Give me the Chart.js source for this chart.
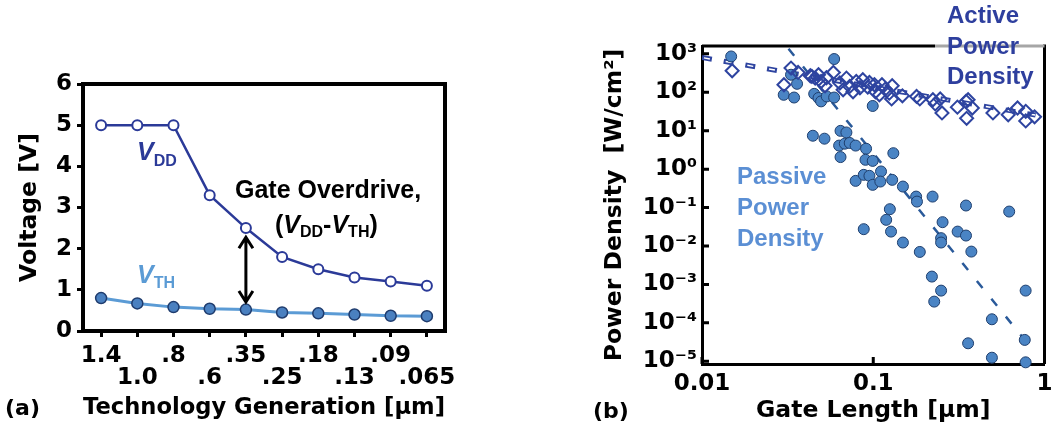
<!DOCTYPE html>
<html>
<head>
<meta charset="utf-8">
<script src="https://cdn.jsdelivr.net/npm/chart.js@4.4.1/dist/chart.umd.min.js"></script>
<style>
  body { margin: 0; background: #fff; }
  #wrap { position: relative; width: 1053px; height: 434px; overflow: hidden; }
  canvas { position: absolute; top: 0; }
  #voltChart { left: 0; }
  #powerChart { left: 530px; }
</style>
</head>
<body>
<div id="wrap">
  <canvas id="voltChart" width="470" height="434"></canvas>
  <canvas id="powerChart" width="523" height="434"></canvas>
</div>
<script>
/* ================= DATA (a) ================= */
const generations = ['1.4', '1.0', '.8', '.6', '.35', '.25', '.18', '.13', '.09', '.065'];
const vddValues = [5, 5, 5, 3.3, 2.5, 1.8, 1.5, 1.3, 1.2, 1.1];
const vthValues = [0.8, 0.67, 0.58, 0.54, 0.52, 0.45, 0.43, 0.4, 0.37, 0.36];

/* ================= DATA (b) ================= */
const passiveX = [0.0148, 0.0591, 0.0331, 0.0359, 0.030, 0.0345, 0.0452, 0.0479, 0.0496, 0.0535,
  0.0591, 0.0993, 0.0444, 0.0519, 0.0644, 0.0697, 0.0632, 0.0682, 0.0729, 0.0789,
  0.0644, 0.0908, 0.0901, 0.0993, 0.131, 0.111, 0.0789, 0.088, 0.095, 0.0993,
  0.110, 0.129, 0.149, 0.178, 0.180, 0.222, 0.348, 0.622, 0.125, 0.119,
  0.127, 0.088, 0.149, 0.187, 0.254, 0.249, 0.249, 0.311, 0.348, 0.374,
  0.220, 0.249, 0.227, 0.776, 0.493, 0.358, 0.767, 0.493, 0.776];
const passiveY = [855, 733, 286, 166, 86, 73, 91, 71, 58, 78,
  73, 44, 7.4, 6.2, 9.9, 9.0, 4.1, 4.6, 4.8, 4.1,
  2.06, 3.4, 1.75, 1.64, 2.6, 0.87, 0.495, 0.71, 0.67, 0.39,
  0.475, 0.526, 0.352, 0.193, 0.143, 0.193, 0.113, 0.0787, 0.0908, 0.0479,
  0.0237, 0.0274, 0.0123, 0.007, 0.0417, 0.016, 0.0123, 0.0237, 0.0187, 0.00715,
  0.0016, 0.00069, 0.000357, 0.00069, 0.000124, 2.94e-5, 3.6e-5, 1.24e-5, 9.4e-6];

const activeX = [0.0150, 0.0301, 0.0331, 0.0364, 0.0429, 0.0438, 0.0458, 0.0479, 0.0496, 0.0523,
  0.0533, 0.0585, 0.0638, 0.0667, 0.0697, 0.0729, 0.0762, 0.0796, 0.0836, 0.0869,
  0.0929, 0.0950, 0.1016, 0.103, 0.1086, 0.1124, 0.1176, 0.124, 0.128, 0.129,
  0.148, 0.179, 0.187, 0.223, 0.230, 0.246, 0.252, 0.310, 0.348, 0.358,
  0.351, 0.379, 0.500, 0.614, 0.696, 0.777, 0.777, 0.875];
const activeY = [363, 157, 427, 328, 269, 258, 234, 286, 191, 148,
  239, 328, 174, 116, 234, 142, 103, 191, 131, 212,
  136, 180, 157, 103, 86, 157, 121, 95, 67, 148,
  81, 78, 67, 64, 50, 67, 29, 41, 58, 64,
  21, 39, 29, 26, 39, 32, 18, 23];

const activeFitX = [0.01, 0.887];
const activeFitY = [802, 25.5];
const passiveFitX = [0.032, 0.865];
const passiveFitY = [1360, 1.85e-5];

const gateTicks = [0.01, 0.1, 1];
const gateTickLabels = ['0.01', '0.1', '1'];
const powerTicks = [1e-5, 1e-4, 1e-3, 1e-2, 1e-1, 1, 10, 100, 1000];
const powerTickLabels = ['10⁻⁵', '10⁻⁴', '10⁻³', '10⁻²', '10⁻¹', '10⁰', '10¹', '10²', '10³'];

/* ================= STYLE ================= */
const AXIS_FONT = '"DejaVu Sans", sans-serif';
const NOTE_FONT = '"Liberation Sans", Arial, sans-serif';
const DARK_BLUE = '#2b3a98';
const LIGHT_BLUE = '#5b9bd5';

const tickFont = { family: AXIS_FONT, weight: 'bold', size: 23 };
const titleFont = { family: AXIS_FONT, weight: 'bold', size: 23.5, lineHeight: 1.2 };

function drawRuns(ctx, x, y, runs, color) {
  ctx.save();
  ctx.fillStyle = color;
  ctx.textAlign = 'left';
  ctx.textBaseline = 'alphabetic';
  runs.forEach(r => {
    ctx.font = r.font;
    ctx.fillText(r.text, x, y + (r.dy || 0));
    x += ctx.measureText(r.text).width;
  });
  ctx.restore();
}

const big = 'bold 25px ' + NOTE_FONT;
const bigIt = 'italic bold 25px ' + NOTE_FONT;
const sub = 'bold 16px ' + NOTE_FONT;

/* ================= CHART (a) ================= */
const arrowAt = 4;
const arrowFrom = 2.3;
const arrowTo = 0.68;

const voltExtras = {
  id: 'voltExtras',
  beforeDatasetsDraw(chart) {
    const { ctx, chartArea: a } = chart;
    ctx.save();
    ctx.strokeStyle = '#000';
    ctx.lineWidth = 4;
    ctx.beginPath();
    ctx.moveTo(a.left - 2, a.top);
    ctx.lineTo(a.right, a.top);
    ctx.lineTo(a.right, a.bottom + 2);
    ctx.stroke();
    ctx.restore();
  },
  afterDatasetsDraw(chart) {
    const { ctx } = chart;
    const xs = chart.scales.x, ys = chart.scales.y;

    /* double arrow */
    const ax = xs.getPixelForValue(arrowAt);
    const y1 = ys.getPixelForValue(arrowFrom);
    const y2 = ys.getPixelForValue(arrowTo);
    ctx.save();
    ctx.strokeStyle = '#000';
    ctx.lineWidth = 3;
    ctx.beginPath();
    ctx.moveTo(ax, y1 + 2);
    ctx.lineTo(ax, y2 - 2);
    ctx.moveTo(ax - 7, y1 + 12);
    ctx.lineTo(ax, y1 + 1);
    ctx.lineTo(ax + 7, y1 + 12);
    ctx.moveTo(ax - 7, y2 - 12);
    ctx.lineTo(ax, y2 - 1);
    ctx.lineTo(ax + 7, y2 - 12);
    ctx.stroke();
    ctx.restore();

    /* labels */
    drawRuns(ctx, 137, 160, [{ text: 'V', font: bigIt }, { text: 'DD', font: sub, dy: 6 }], DARK_BLUE);
    drawRuns(ctx, 137, 283, [{ text: 'V', font: bigIt }, { text: 'TH', font: sub, dy: 5 }], LIGHT_BLUE);
    drawRuns(ctx, 235, 198, [{ text: 'Gate Overdrive,', font: big }], '#000');
    drawRuns(ctx, 275, 233, [
      { text: '(', font: big }, { text: 'V', font: bigIt }, { text: 'DD', font: sub, dy: 4 },
      { text: '-', font: big }, { text: 'V', font: bigIt }, { text: 'TH', font: sub, dy: 4 },
      { text: ')', font: big }
    ], '#000');
    drawRuns(ctx, 5, 415, [{ text: '(a)', font: 'bold 22px ' + AXIS_FONT }], '#000');
  }
};

new Chart(document.getElementById('voltChart'), {
  type: 'line',
  data: {
    labels: generations,
    datasets: [
      {
        label: 'VDD',
        data: vddValues,
        borderColor: DARK_BLUE,
        borderWidth: 2.5,
        pointRadius: 5,
        pointBorderWidth: 2,
        pointBackgroundColor: '#fff',
        pointBorderColor: DARK_BLUE,
        tension: 0,
        clip: false
      },
      {
        label: 'VTH',
        data: vthValues,
        borderColor: LIGHT_BLUE,
        borderWidth: 3,
        pointRadius: 5.5,
        pointBorderWidth: 1.5,
        pointBackgroundColor: '#4a80c0',
        pointBorderColor: '#1f3c6e',
        tension: 0,
        clip: false
      }
    ]
  },
  options: {
    responsive: false,
    animation: false,
    events: [],
    layout: { padding: { top: 84, right: 25, left: 0, bottom: 0 } },
    plugins: { legend: { display: false }, tooltip: { enabled: false } },
    scales: {
      x: {
        offset: true,
        grid: { display: true, drawOnChartArea: false, drawTicks: true, tickLength: 6, tickWidth: 3, tickColor: '#000', offset: false },
        border: { display: true, color: '#000', width: 4 },
        ticks: {
          autoSkip: false,
          maxRotation: 0,
          padding: 8,
          color: '#000',
          font: { ...tickFont, lineHeight: 0.96 },
          callback: (v, i) => (i % 2 ? ['', generations[i]] : [generations[i], ''])
        },
        title: { display: true, text: 'Technology Generation [µm]', color: '#000', font: titleFont, padding: { top: 12, bottom: 12 } },
        afterFit: s => { s.height = 103; s.paddingLeft = 0; s.paddingRight = 0; }
      },
      y: {
        min: 0,
        max: 6,
        grid: { display: true, drawOnChartArea: false, drawTicks: true, tickLength: 6, tickWidth: 3, tickColor: '#000' },
        border: { display: true, color: '#000', width: 4 },
        ticks: { stepSize: 1, padding: 5, color: '#000', font: tickFont },
        title: { display: true, text: 'Voltage [V]', color: '#000', font: titleFont, padding: { top: 16, bottom: 16 } },
        afterFit: s => { s.width = 83; s.paddingTop = 0; s.paddingBottom = 0; }
      }
    }
  },
  plugins: [voltExtras]
});

/* ================= CHART (b) ================= */
const powerExtras = {
  id: 'powerExtras',
  beforeDatasetsDraw(chart) {
    const { ctx, chartArea: a } = chart;
    const xs = chart.scales.x, ys = chart.scales.y;
    ctx.save();
    ctx.lineWidth = 3;
    ctx.strokeStyle = '#000';
    ctx.beginPath();
    ctx.moveTo(a.left, a.top);
    ctx.lineTo(405, a.top);
    ctx.moveTo(a.right, a.top - 1.5);
    ctx.lineTo(a.right, a.bottom);
    ctx.stroke();
    ctx.strokeStyle = '#a6a6a6';
    ctx.beginPath();
    ctx.moveTo(405, a.top);
    ctx.lineTo(a.right, a.top);
    ctx.stroke();

    /* inward tick marks */
    ctx.strokeStyle = '#000';
    ctx.beginPath();
    gateTicks.forEach(v => {
      const px = xs.getPixelForValue(v);
      ctx.moveTo(px, a.bottom);
      ctx.lineTo(px, a.bottom - 7);
    });
    powerTicks.forEach(v => {
      const py = ys.getPixelForValue(v);
      ctx.moveTo(a.left, py);
      ctx.lineTo(a.left + 7, py);
    });
    ctx.stroke();
    ctx.restore();
  },
  afterDatasetsDraw(chart) {
    const { ctx } = chart;
    const note = 'bold 24px ' + NOTE_FONT;
    ['Active', 'Power', 'Density'].forEach((t, i) =>
      drawRuns(ctx, 417, 23 + i * 30.5, [{ text: t, font: note }], '#2e3f9e'));
    ['Passive', 'Power', 'Density'].forEach((t, i) =>
      drawRuns(ctx, 207, 184 + i * 31, [{ text: t, font: note }], '#5b8fd4'));
    drawRuns(ctx, 63, 418, [{ text: '(b)', font: 'bold 22px ' + AXIS_FONT }], '#000');
  }
};

const activeFitPoints = activeFitX.map((x, i) => ({ x, y: activeFitY[i] }));

new Chart(document.getElementById('powerChart'), {
  type: 'scatter',
  data: {
    datasets: [
      {
        label: 'Active Power Density',
        data: activeX.map((x, i) => ({ x, y: activeY[i] })),
        pointStyle: 'rectRot',
        pointRadius: 6.5,
        pointBorderWidth: 2,
        borderColor: '#2e44a0',
        backgroundColor: 'rgba(255,255,255,0)',
        order: 1,
        clip: false
      },
      {
        label: 'Passive Power Density',
        data: passiveX.map((x, i) => ({ x, y: passiveY[i] })),
        pointRadius: 5.5,
        pointBorderWidth: 1,
        borderColor: '#1f3f6e',
        backgroundColor: '#4a84c4',
        order: 2,
        clip: false
      },
      {
        label: 'Active trend (inner)',
        data: activeFitPoints,
        showLine: true,
        pointRadius: 0,
        borderColor: '#fff',
        borderWidth: 1.5,
        borderDash: [6, 16],
        borderDashOffset: -2,
        order: 3
      },
      {
        label: 'Active trend',
        data: activeFitPoints,
        showLine: true,
        pointRadius: 0,
        borderColor: '#2e44a0',
        borderWidth: 5,
        borderDash: [10, 12],
        order: 4
      },
      {
        label: 'Passive trend',
        data: passiveFitX.map((x, i) => ({ x, y: passiveFitY[i] })),
        showLine: true,
        pointRadius: 0,
        borderColor: '#2a5a9a',
        borderWidth: 2.5,
        borderDash: [9, 14],
        order: 4
      }
    ]
  },
  options: {
    responsive: false,
    animation: false,
    events: [],
    layout: { padding: { top: 46, right: 5, left: 0, bottom: 0 } },
    plugins: { legend: { display: false }, tooltip: { enabled: false } },
    scales: {
      x: {
        type: 'logarithmic',
        min: 0.01,
        max: 1,
        afterBuildTicks: s => { s.ticks = gateTicks.map(v => ({ value: v })); },
        grid: { display: false, drawTicks: false },
        border: { display: true, color: '#000', width: 3 },
        ticks: { autoSkip: false, maxRotation: 0, padding: 6, color: '#000', font: tickFont,
          callback: (v, i) => gateTickLabels[i] },
        title: { display: true, text: 'Gate Length [µm]', color: '#000', font: titleFont, padding: { top: 9, bottom: 9 } },
        afterFit: s => { s.height = 70; s.paddingLeft = 0; s.paddingRight = 0; }
      },
      y: {
        type: 'logarithmic',
        min: 8.5e-6,
        max: 1600,
        afterBuildTicks: s => { s.ticks = powerTicks.map(v => ({ value: v })); },
        grid: { display: false, drawTicks: false },
        border: { display: true, color: '#000', width: 3 },
        ticks: { autoSkip: false, padding: 5, color: '#000', font: tickFont,
          callback: (v, i) => powerTickLabels[i] },
        title: { display: true, text: 'Power Density  [W/cm²]', color: '#000', font: titleFont, padding: { top: 71, bottom: 71 } },
        afterFit: s => { s.width = 172; s.paddingTop = 0; s.paddingBottom = 0; }
      }
    }
  },
  plugins: [powerExtras]
});
</script>
</body>
</html>
